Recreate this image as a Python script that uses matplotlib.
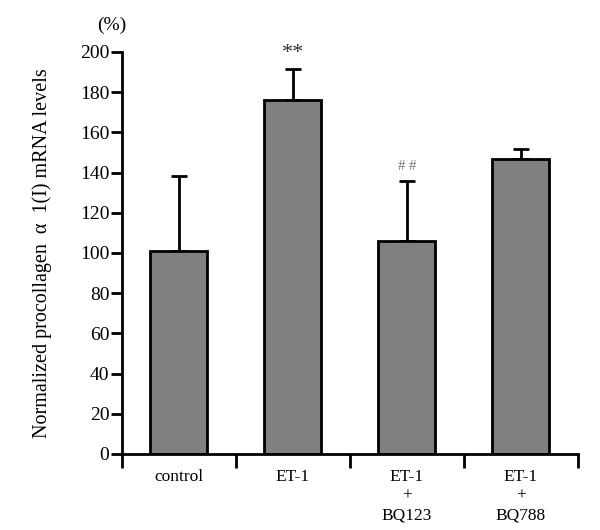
import matplotlib.pyplot as plt
import numpy as np

plt.rcParams["font.family"] = ["Liberation Serif", "DejaVu Serif"]

# ---------------------------------------------------
# DATA
# ---------------------------------------------------
groups = ["control", "ET-1", "ET-1\n+\nBQ123", "ET-1\n+\nBQ788"]
means = [101, 176, 106, 146.5]
errors = [37.5, 15.5, 30, 5]
marks = ["", "**", "##", ""]
yticks = [0, 20, 40, 60, 80, 100, 120, 140, 160, 180, 200]

# ---------------------------------------------------
# PLOT
# ---------------------------------------------------
fig = plt.figure(figsize=(6, 5.3), dpi=100)
ax = fig.add_axes([0.203, 0.1434, 0.76, 0.7586])

x = np.arange(len(groups))
ax.bar(x, means, width=0.5, color="#808080", edgecolor="black",
       linewidth=2, zorder=2)
ax.errorbar(x, means, yerr=[np.zeros(len(errors)), errors], fmt="none",
            ecolor="black", elinewidth=2, capsize=6, capthick=2, zorder=1)

for xi, m, e, lab in zip(x, means, errors, marks):
    if lab == "**":
        ax.text(xi, m + e + 3, lab, ha="center", va="bottom",
                fontsize=16, color="#333333")
    elif lab == "##":
        ax.text(xi, m + e + 4, "# #", ha="center", va="bottom",
                fontsize=10.5, color="#777777")

ax.set_xlim(-0.5, len(groups) - 0.5)
ax.set_ylim(0, 200)
ax.set_yticks(yticks)
ax.set_yticklabels([str(t) for t in yticks], fontsize=14)
ax.set_xticks(np.arange(-0.5, len(groups), 1.0))
ax.set_xticklabels([])
ax.tick_params(axis="y", direction="out", length=8, width=2, pad=1)
ax.tick_params(axis="x", direction="out", length=10, width=2)

for xi, g in zip(x, groups):
    ax.text(xi, -7.5, g, ha="center", va="top", fontsize=12.5,
            linespacing=1.25, clip_on=False)

for s in ["top", "right"]:
    ax.spines[s].set_visible(False)
for s in ["left", "bottom"]:
    ax.spines[s].set_linewidth(2)

ax.set_ylabel("Normalized procollagen  α  1(I) mRNA levels", fontsize=14.5,
              labelpad=20)
fig.text(0.187, 0.952, "(%)", ha="center", va="center", fontsize=14)

plt.savefig("out.png", dpi=100)
plt.close()
